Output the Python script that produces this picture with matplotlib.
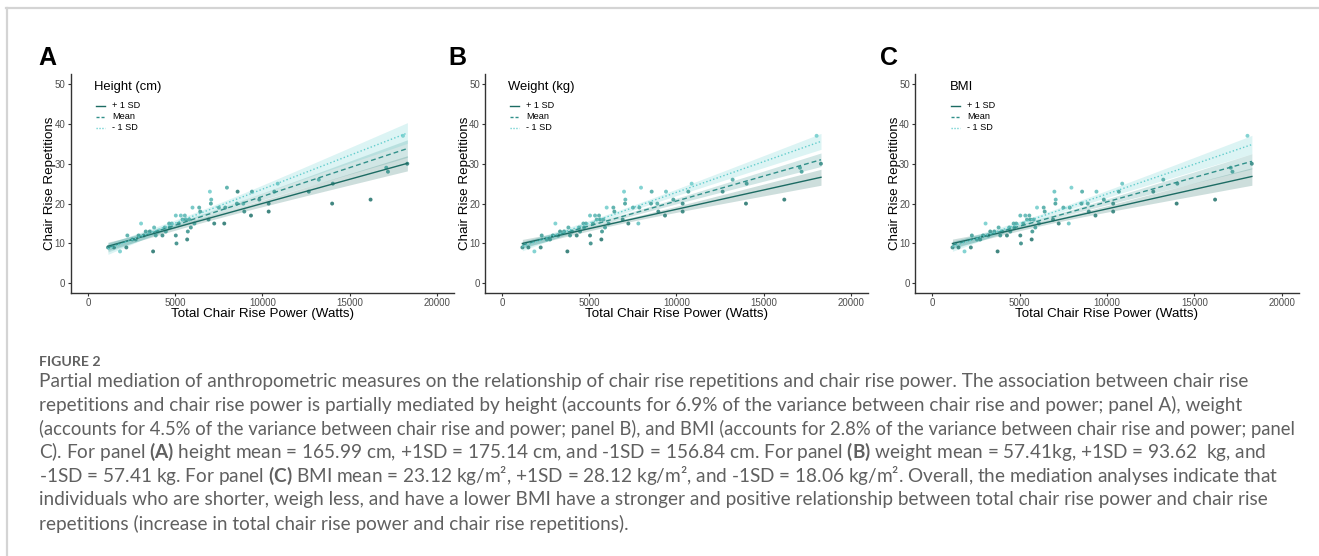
import numpy as np
import matplotlib
matplotlib.use("Agg")
import matplotlib.pyplot as plt
from matplotlib.lines import Line2D
from matplotlib.colors import LinearSegmentedColormap

# ---------------- data ----------------
power = [1148, 1493, 1837, 2200, 2258, 2545, 2737, 2900, 3043, 3200,
         3311, 3541, 3732, 3790, 3885, 4000, 4268, 4400, 4460, 4651,
         4689, 4800, 5033, 5033, 5072, 5200, 5321, 5416, 5550, 5608,
         5684, 5722, 5799, 5895, 5990, 6100, 6373, 6431, 6909, 6986,
         7043, 7062, 7234, 7500, 7809, 7866, 7962, 8536, 8574, 8899,
         8957, 9340, 9397, 9818, 10354, 10354, 10679, 10871, 12651, 13225,
         13990, 14029, 16192, 17091, 17187, 18048, 18296]
reps = [9, 9, 8, 9, 12, 11, 11, 12, 15, 12,
        13, 13, 8, 14, 12, 13, 12, 14, 13, 15,
        14, 15, 17, 12, 10, 15, 17, 16, 17, 16,
        11, 13, 16, 14, 19, 15, 19, 18, 16, 23,
        20, 21, 15, 19, 15, 19, 24, 20, 23, 20,
        18, 17, 23, 21, 20, 18, 23, 25, 23, 26,
        20, 25, 21, 29, 28, 37, 30]
shade_height = [0.4, 0.3, 0.9, 0.2, 0.6, 0.5, 0.4, 0.5, 0.9, 0.4,
                0.5, 0.4, 0.1, 0.7, 0.5, 0.5, 0.3, 0.6, 0.5, 0.6,
                0.5, 0.7, 0.8, 0.3, 0.3, 0.5, 0.8, 0.6, 0.7, 0.5,
                0.2, 0.4, 0.6, 0.4, 0.8, 0.5, 0.6, 0.5, 0.3, 0.9,
                0.5, 0.7, 0.2, 0.6, 0.1, 0.5, 0.6, 0.5, 0.2, 0.6,
                0.3, 0.1, 0.5, 0.4, 0.2, 0.1, 0.5, 0.8, 0.3, 0.6,
                0.1, 0.3, 0.1, 0.5, 0.4, 0.9, 0.2]
shade_weight = [0.3, 0.2, 0.9, 0.2, 0.5, 0.5, 0.4, 0.5, 0.9, 0.4,
                0.4, 0.5, 0.1, 0.6, 0.4, 0.5, 0.2, 0.6, 0.4, 0.6,
                0.5, 0.6, 0.8, 0.2, 0.3, 0.5, 0.7, 0.6, 0.6, 0.5,
                0.1, 0.4, 0.6, 0.5, 0.9, 0.5, 0.6, 0.5, 0.3, 0.9,
                0.5, 0.7, 0.2, 0.6, 0.8, 0.6, 0.9, 0.5, 0.6, 0.6,
                0.3, 0.2, 0.8, 0.5, 0.3, 0.2, 0.5, 0.9, 0.3, 0.6,
                0.1, 0.4, 0.1, 0.5, 0.5, 0.9, 0.3]
shade_bmi = [0.3, 0.2, 0.9, 0.2, 0.5, 0.5, 0.4, 0.5, 0.9, 0.4,
             0.4, 0.5, 0.1, 0.6, 0.4, 0.5, 0.2, 0.6, 0.4, 0.6,
             0.5, 0.6, 0.7, 0.2, 0.3, 0.5, 0.7, 0.6, 0.6, 0.5,
             0.1, 0.4, 0.6, 0.5, 0.9, 0.5, 0.6, 0.5, 0.3, 0.8,
             0.5, 0.7, 0.2, 0.6, 0.8, 0.6, 0.9, 0.5, 0.6, 0.6,
             0.3, 0.2, 0.8, 0.5, 0.3, 0.2, 0.5, 0.8, 0.3, 0.6,
             0.1, 0.4, 0.1, 0.5, 0.5, 0.9, 0.3]

levels = ["+ 1 SD", "Mean", "- 1 SD"]
panel_letters = ["A", "B", "C"]
legend_titles = ["Height (cm)", "Weight (kg)", "BMI"]
shades = [shade_height, shade_weight, shade_bmi]

fit_x = [1146, 18300]
fit_start = [[9.3, 9.0, 8.6],     # panel A: +1SD, Mean, -1SD
             [10.0, 9.6, 9.2],    # panel B
             [10.0, 9.6, 9.2]]    # panel C
fit_end = [[30.1, 33.8, 37.7],
           [26.6, 31.0, 35.6],
           [26.8, 30.6, 34.8]]
ci_mid = [[0.6, 0.6, 0.7], [0.5, 0.5, 0.6], [0.5, 0.5, 0.6]]
ci_end = [[1.9, 2.2, 2.6], [2.0, 1.7, 2.0], [2.2, 1.9, 2.3]]
ci_center_x = 6500

x_ticks = [0, 5000, 10000, 15000, 20000]
y_ticks = [0, 10, 20, 30, 40, 50]

caption_title = "FIGURE 2"
caption_lines = [
    "Partial mediation of anthropometric measures on the relationship of chair rise repetitions and chair rise power. The association between chair rise",
    "repetitions and chair rise power is partially mediated by height (accounts for 6.9% of the variance between chair rise and power; panel A), weight",
    "(accounts for 4.5% of the variance between chair rise and power; panel B), and BMI (accounts for 2.8% of the variance between chair rise and power; panel",
    r"C). For panel $\mathbf{(A)}$ height mean = 165.99 cm, +1SD = 175.14 cm, and -1SD = 156.84 cm. For panel $\mathbf{(B)}$ weight mean = 57.41kg, +1SD = 93.62  kg, and",
    r"-1SD = 57.41 kg. For panel $\mathbf{(C)}$ BMI mean = 23.12 kg/m², +1SD = 28.12 kg/m², and -1SD = 18.06 kg/m². Overall, the mediation analyses indicate that",
    "individuals who are shorter, weigh less, and have a lower BMI have a stronger and positive relationship between total chair rise power and chair rise",
    "repetitions (increase in total chair rise power and chair rise repetitions).",
]

# ---------------- style ----------------
W, H = 1319, 556
plt.rcParams['font.family'] = ['Liberation Sans', 'DejaVu Sans']
plt.rcParams['mathtext.fontset'] = 'custom'
plt.rcParams['mathtext.rm'] = 'Lato'
plt.rcParams['mathtext.bf'] = 'Lato:bold'

line_colors = ['#1c6b63', '#30908a', '#62cdcd']
line_styles = ['-', (0, (3.5, 2.2)), (0, (1.0, 1.6))]
key_styles = ['-', (0, (2.2, 1.4)), (0, (0.9, 1.2))]
cmap = LinearSegmentedColormap.from_list('teal', ['#1a665f', '#3b9c96', '#7ad8d8'])
axis_col = '#333333'
tick_col = '#4d4d4d'
cap_col = '#606060'

fig = plt.figure(figsize=(W / 100, H / 100), dpi=100)
fig.patch.set_facecolor('white')

def fx(px):
    return px / W

def fy(py):
    return 1 - py / H

# outer border (top and left gray rules)
fig.add_artist(Line2D([fx(6), fx(W)], [fy(8), fy(8)], color='#d4d4d4', lw=1.6))
fig.add_artist(Line2D([fx(7), fx(7)], [fy(8), fy(H)], color='#d4d4d4', lw=1.6))

axes_px = [(70.5, 454.5), (485.0, 868.0), (915.0, 1299.0)]
ax_top, ax_bot = 74.0, 293.3
letter_x = [38, 448, 880]
legend_title_x = [94, 508, 950]
legend_key_x = [96, 510, 951]
legend_rows_y = [105.7, 116.7, 128.0]

for p in range(3):
    l, r = axes_px[p]
    ax = fig.add_axes([fx(l), fy(ax_bot), (r - l) / W, (ax_bot - ax_top) / H])
    ax.set_xlim(-1000, 21000)
    ax.set_ylim(-2.5, 52.5)
    xs = np.linspace(fit_x[0], fit_x[1], 120)
    for k in range(3):
        y0, y1 = fit_start[p][k], fit_end[p][k]
        ys = y0 + (y1 - y0) * (xs - fit_x[0]) / (fit_x[1] - fit_x[0])
        kk = (ci_end[p][k] ** 2 - ci_mid[p][k] ** 2) / (fit_x[1] - ci_center_x) ** 2
        hw = np.sqrt(ci_mid[p][k] ** 2 + kk * (xs - ci_center_x) ** 2)
        ax.fill_between(xs, ys - hw, ys + hw, color=line_colors[k], alpha=0.22,
                        linewidth=0, zorder=1)
    ax.scatter(power, reps, c=shades[p], cmap=cmap, vmin=0, vmax=1, s=8,
               alpha=0.85, linewidths=0, zorder=2)
    for k in range(3):
        ax.plot(fit_x, [fit_start[p][k], fit_end[p][k]], color=line_colors[k],
                linestyle=line_styles[k], lw=1.0, zorder=3)

    for s in ['top', 'right']:
        ax.spines[s].set_visible(False)
    for s in ['left', 'bottom']:
        ax.spines[s].set_color(axis_col)
        ax.spines[s].set_linewidth(1.0)
    ax.set_xticks(x_ticks)
    ax.set_yticks(y_ticks)
    ax.set_xticklabels([str(v) for v in x_ticks])
    ax.tick_params(axis='both', colors=axis_col, labelcolor=tick_col, labelsize=7,
                   length=2.5, width=0.8, pad=1.2)
    ax.set_xlabel('Total Chair Rise Power (Watts)', fontsize=9.6, color='black')
    ax.set_ylabel('Chair Rise Repetitions', fontsize=9.6, color='black')
    ax.xaxis.set_label_coords(0.5, (ax_bot - 307.5) / (ax_bot - ax_top))
    ax.yaxis.set_label_coords((56.5 - 70.5) / (r - l), 0.5)

    # panel letter
    fig.text(fx(letter_x[p]), fy(65), panel_letters[p], fontsize=18,
             fontweight='bold', ha='left', va='baseline', color='black')
    # legend
    fig.text(fx(legend_title_x[p]), fy(87), legend_titles[p], fontsize=9.4,
             ha='left', va='center', color='black')
    for k in range(3):
        yy = fy(legend_rows_y[k])
        fig.add_artist(Line2D([fx(legend_key_x[p]), fx(legend_key_x[p] + 9)], [yy, yy],
                              color=line_colors[k], linestyle=key_styles[k], lw=1.0))
        fig.text(fx(legend_key_x[p] + 16), yy, levels[k], fontsize=6.6,
                 ha='left', va='center', color='black')

# ---------------- caption ----------------
renderer = fig.canvas.get_renderer()
cap_font = 'Lato'
left_px = 39
max_w = 1258
probe = fig.text(0, 0, caption_lines[0], fontsize=10, family=cap_font)
w10 = probe.get_window_extent(renderer).width
probe.remove()
base_size = 10 * 1216 / w10

tprobe = fig.text(0, 0, caption_title, fontsize=10, family=cap_font, fontweight='bold')
tw10 = tprobe.get_window_extent(renderer).width
tprobe.remove()
fig.text(fx(left_px), fy(362), caption_title, fontsize=10 * 62 / tw10,
         family=cap_font, fontweight='bold', color=cap_col, ha='left', va='center')

for i, line in enumerate(caption_lines):
    t = fig.text(fx(left_px), fy(381 + 23.8 * i), line, fontsize=base_size,
                 family=cap_font, color=cap_col, ha='left', va='center')
    w = t.get_window_extent(renderer).width
    if w > max_w:
        t.set_fontsize(base_size * max_w / w)

fig.savefig('out.png', dpi=100, facecolor='white')
